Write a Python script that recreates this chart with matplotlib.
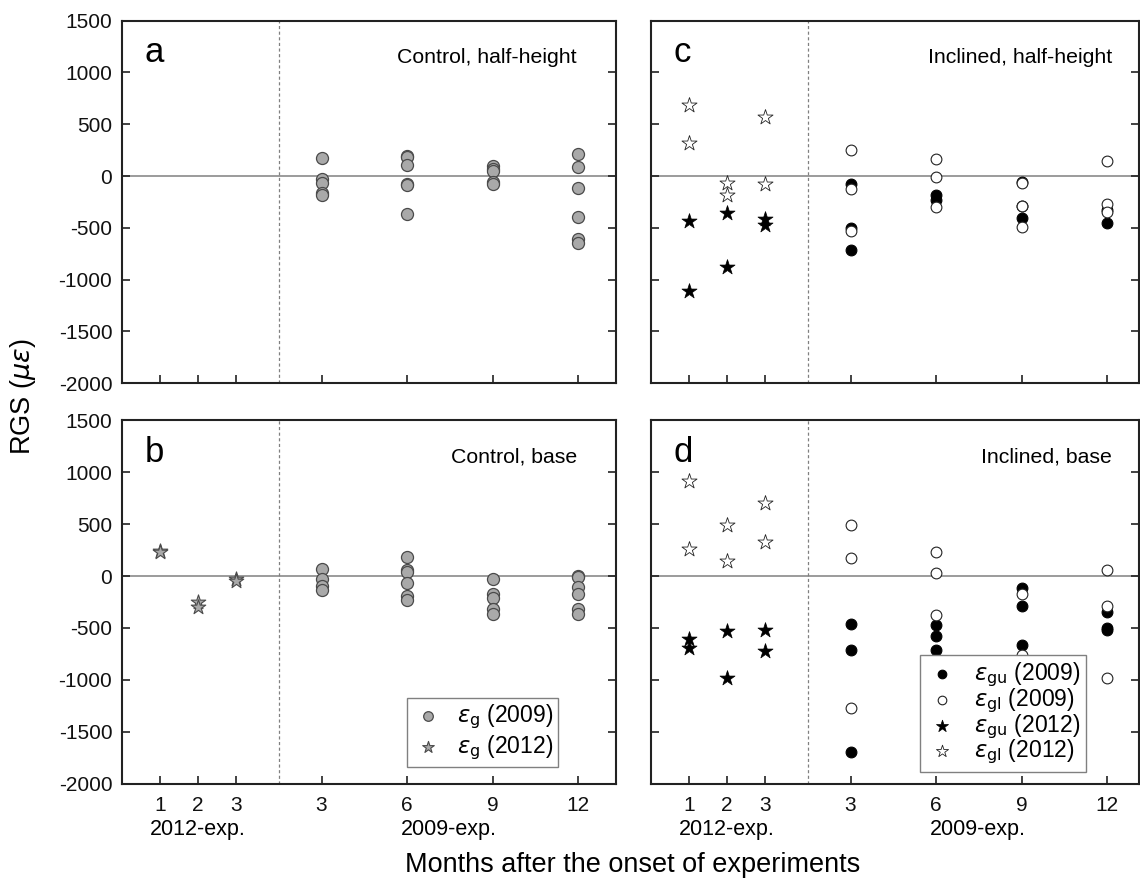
import matplotlib
matplotlib.use('Agg')
import matplotlib.pyplot as plt
import matplotlib.transforms as mtransforms

plt.rcParams['font.family'] = ['Liberation Sans', 'DejaVu Sans']
plt.rcParams['mathtext.fontset'] = 'dejavusans'
plt.rcParams['axes.unicode_minus'] = False

# ---------------- data ----------------
months_2012 = [1, 2, 3]
months_2009 = [3, 6, 9, 12]
tick_labels = ['1', '2', '3', '3', '6', '9', '12']

# panel a: Control, half-height
a_g2009 = [[175, -25, -65, -160, -180],
           [195, 180, 105, -75, -90, -370],
           [100, 70, 50, -55, -75],
           [215, 90, -115, -395, -605, -650]]
# panel b: Control, base
b_g2012 = [[245, 235], [-250, -295], [-25, -50]]
b_g2009 = [[70, -25, -100, -135],
           [185, 55, 35, -65, -190, -235],
           [-30, -175, -210, -320, -370],
           [5, -5, -105, -170, -315, -370]]
# panel c: Inclined, half-height
c_gu2009 = [[-75, -505, -710], [-185, -230], [-60, -285, -400], [-330, -450]]
c_gl2009 = [[250, -120, -530], [165, -10, -295], [-70, -290, -490], [145, -270, -345]]
c_gu2012 = [[-430, -1105], [-360, -880], [-415, -475]]
c_gl2012 = [[690, 315], [-70, -185], [575, -80]]
# panel d: Inclined, base
d_gu2009 = [[-460, -715, -1690], [-475, -575, -715], [-115, -290, -660], [-350, -505, -520]]
d_gl2009 = [[495, 175, -1275], [235, 30, -375], [-170, -760], [55, -290, -980]]
d_gu2012 = [[-610, -690], [-530, -980], [-515, -720]]
d_gl2012 = [[920, 265], [495, 145], [700, 325]]


def pos2012(m):
    return m


def pos2009(m):
    return 3 + 0.75 * m


def flat(groups, months, conv):
    xs, ys = [], []
    for m, vals in zip(months, groups):
        for v in vals:
            xs.append(conv(m))
            ys.append(v)
    return xs, ys


W, H = 1140, 883
fig = plt.figure(figsize=(W / 100, H / 100), dpi=100)

top_y0, top_y1 = 20.7, 383.3
bot_y0, bot_y1 = 420.3, 783.7
L_x0, L_x1 = 122, 616
R_x0, R_x1 = 651, 1139


def mk(x0, x1, y0, y1):
    return fig.add_axes([x0 / W, 1 - y1 / H, (x1 - x0) / W, (y1 - y0) / H])


ax_a = mk(L_x0, L_x1, top_y0, top_y1)
ax_b = mk(L_x0, L_x1, bot_y0, bot_y1)
ax_c = mk(R_x0, R_x1, top_y0, top_y1)
ax_d = mk(R_x0, R_x1, bot_y0, bot_y1)

tick_pos = [pos2012(m) for m in months_2012] + [pos2009(m) for m in months_2009]
divider = (pos2012(3) + pos2009(3)) / 2

for ax, right in [(ax_a, False), (ax_b, False), (ax_c, True), (ax_d, True)]:
    ax.set_ylim(-2000, 1500)
    ax.set_xlim(0, (R_x1 - R_x0) / 38.0 if right else 13)
    ax.set_yticks([-2000, -1500, -1000, -500, 0, 500, 1000, 1500])
    ax.set_xticks(tick_pos)
    ax.axhline(0, color='#808080', lw=1.1, zorder=1)
    ax.axvline(divider, color='#808080', lw=0.9, ls=(0, (2.5, 2)), zorder=1)
    ax.tick_params(axis='both', direction='in', length=6, width=1.2, labelsize=15,
                   colors='#222222', labelcolor='#111111')
    ax.tick_params(axis='y', left=True, right=True, pad=7)
    ax.tick_params(axis='x', top=False, pad=9)
    for s in ax.spines.values():
        s.set_linewidth(1.5)
        s.set_color('#222222')
    if right:
        ax.set_yticklabels([])
    if ax in (ax_a, ax_c):
        ax.set_xticklabels([])
    else:
        ax.set_xticklabels(tick_labels)
        tr = mtransforms.blended_transform_factory(ax.transData, ax.transAxes)
        ax.text(2, -0.127, '2012-exp.', transform=tr, ha='center', va='center', fontsize=15.5)
        ax.text(8.6, -0.127, '2009-exp.', transform=tr, ha='center', va='center', fontsize=15.5)

# titles and letters
panel_info = [(ax_a, 'a', 'Control, half-height', 0.921),
              (ax_b, 'b', 'Control, base', 0.921),
              (ax_c, 'c', 'Inclined, half-height', 0.945),
              (ax_d, 'd', 'Inclined, base', 0.945)]
for ax, letter, title, tx in panel_info:
    ax.text(0.046, 0.886, letter, transform=ax.transAxes, fontsize=25, ha='left', va='baseline')
    ax.text(tx, 0.884, title, transform=ax.transAxes, fontsize=15.3, ha='right', va='baseline')

gray_face = '#a9a9a9'
gray_edge = '#4a4a4a'

# panel a
x, y = flat(a_g2009, months_2009, pos2009)
ax_a.scatter(x, y, s=75, c=gray_face, edgecolors=gray_edge, linewidths=0.9, zorder=3)

# panel b
x, y = flat(b_g2009, months_2009, pos2009)
ax_b.scatter(x, y, s=75, c=gray_face, edgecolors=gray_edge, linewidths=0.9, zorder=3,
             label=r'$\varepsilon_{\mathrm{g}}$ (2009)')
x, y = flat(b_g2012, months_2012, pos2012)
ax_b.scatter(x, y, s=120, marker='*', c=gray_face, edgecolors=gray_edge, linewidths=0.8, zorder=3,
             label=r'$\varepsilon_{\mathrm{g}}$ (2012)')
leg = ax_b.legend(loc='lower right', bbox_to_anchor=(0.883, 0.046), fontsize=16.5, frameon=True,
                  fancybox=False, edgecolor='#808080', framealpha=1, handletextpad=0.6,
                  labelspacing=0.15, borderpad=0.2, handlelength=1.4, borderaxespad=0,
                  markerscale=0.8)
leg.get_frame().set_linewidth(1.0)


def draw_incl(ax, gu09, gl09, gu12, gl12):
    x, y = flat(gu09, months_2009, pos2009)
    ax.scatter(x, y, s=60, c='black', edgecolors='black', linewidths=0.8, zorder=3,
               label=r'$\varepsilon_{\mathrm{gu}}$ (2009)')
    x, y = flat(gl09, months_2009, pos2009)
    ax.scatter(x, y, s=60, c='white', edgecolors='#222222', linewidths=0.8, zorder=4,
               label=r'$\varepsilon_{\mathrm{gl}}$ (2009)')
    x, y = flat(gu12, months_2012, pos2012)
    ax.scatter(x, y, s=130, marker='*', c='black', edgecolors='black', linewidths=0.5, zorder=3,
               label=r'$\varepsilon_{\mathrm{gu}}$ (2012)')
    x, y = flat(gl12, months_2012, pos2012)
    ax.scatter(x, y, s=130, marker='*', c='white', edgecolors='#222222', linewidths=0.6, zorder=4,
               label=r'$\varepsilon_{\mathrm{gl}}$ (2012)')


draw_incl(ax_c, c_gu2009, c_gl2009, c_gu2012, c_gl2012)
draw_incl(ax_d, d_gu2009, d_gl2009, d_gu2012, d_gl2012)
leg = ax_d.legend(loc='lower right', bbox_to_anchor=(0.891, 0.032), fontsize=16.5, frameon=True,
                  fancybox=False, edgecolor='#808080', framealpha=1, handletextpad=0.7,
                  labelspacing=-0.12, borderpad=0.25, handlelength=1.4, borderaxespad=0,
                  markerscale=0.8)
leg.get_frame().set_linewidth(1.0)
leg.set_zorder(10)

fig.text(22.5 / W, 1 - 397 / H, r'RGS ($\mu\varepsilon$)', rotation=90, ha='center', va='center', fontsize=19.5)
fig.text(633 / W, 1 - 865 / H, 'Months after the onset of experiments', ha='center', va='center', fontsize=19.5)

fig.savefig('out.png', dpi=100)
